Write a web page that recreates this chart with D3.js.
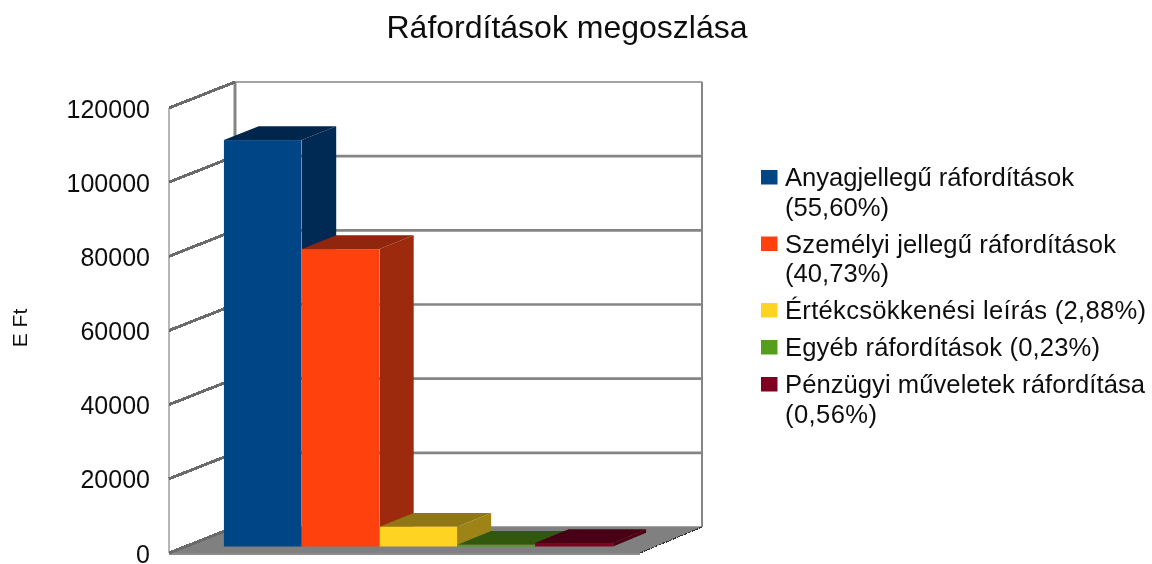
<!DOCTYPE html>
<html>
<meta charset="utf-8">
<style>
  body { margin: 0; background: #fff; }
  svg { display: block; }
  text { font-family: "Liberation Sans", Arial, sans-serif; fill: #111; }
</style>
<body>
  <svg width="1152" height="564">
    <defs>
      <filter id="soft" x="-5%" y="-5%" width="110%" height="110%">
        <feGaussianBlur stdDeviation="0.5"></feGaussianBlur>
      </filter>
    </defs>
  </svg>
</body>
<script src="https://cdn.jsdelivr.net/npm/d3@7"></script>
<script>
  var titleText = "Ráfordítások megoszlása";
  var yLabel = "E Ft";
  var categories = ["Anyagjellegű", "Személyi", "Értékcsökkenési", "Egyéb", "Pénzügyi"];
  var values = [109600, 80200, 5350, 450, 950];
  var colors = ["#004586", "#ff420e", "#ffd320", "#579d1c", "#7e0021"];
  var legendLabels = [
    ["Anyagjellegű ráfordítások", "(55,60%)"],
    ["Személyi jellegű ráfordítások", "(40,73%)"],
    ["Értékcsökkenési leírás (2,88%)"],
    ["Egyéb ráfordítások (0,23%)"],
    ["Pénzügyi műveletek ráfordítása", "(0,56%)"]
  ];
  var yTicks = [0, 20000, 40000, 60000, 80000, 100000, 120000];

  // widths of the legend lines, the original spacing is a bit looser than the font
  var legendWidths = [[289, 104], [331, 104], [361], [315], [360, 92]];

  var svg = d3.select("svg");
  var root = svg.append("g").attr("filter", "url(#soft)");

  // front plane of the 3D box
  var x0 = 169, x1 = 640, y0 = 553, y1 = 108;
  // how far the back wall is shifted from the front plane (a bit less on the right)
  var depthLeft = 66, depthRight = 62, depthY = 26;
  var barFront = 0.25, barBack = 0.78;

  var x = d3.scaleBand().domain(categories).range([207.5, 597.5]);
  var y = d3.scaleLinear().domain([0, 120000]).range([y0, y1]);
  var shift = d3.scaleLinear().domain([x0, x1]).range([depthLeft, depthRight]);

  // data position -> screen position, d is 0 at front and 1 at back wall
  function px(v, d) { return v + d * shift(v); }
  function py(v, d) { return y(v) - d * depthY; }
  function poly(pts) { return pts.map(function(p) { return p.join(","); }).join(" "); }

  function shade(c, k) {
    var r = d3.rgb(c);
    return d3.rgb(r.r * k, r.g * k, r.b * k).formatHex();
  }

  var chart = root.append("g").attr("class", "chart");

  // FLOOR
  chart.append("polygon")
    .attr("points", poly([[px(x0, 0), py(0, 0)], [px(x1, 0), py(0, 0)], [px(x1, 1), py(0, 1)], [px(x0, 1), py(0, 1)]]))
    .attr("fill", "#808080");
  chart.append("line")
    .attr("x1", x0).attr("x2", x1).attr("y1", y0 + 1).attr("y2", y0 + 1)
    .attr("stroke", "#666").attr("stroke-width", 1.5);

  // GRID ON BACK WALL
  chart.selectAll(".grid").data(yTicks).enter().append("line")
    .attr("class", "grid")
    .attr("x1", px(x0, 1)).attr("x2", px(x1, 1))
    .attr("y1", function(d) { return py(d, 1); })
    .attr("y2", function(d) { return py(d, 1); })
    .attr("stroke", "#858585")
    .attr("stroke-width", function(d) { return d === 120000 || d === 0 ? 1.5 : 2.6; });

  // WALL EDGES
  chart.append("line")
    .attr("x1", px(x0, 1)).attr("x2", px(x0, 1)).attr("y1", py(120000, 1)).attr("y2", py(0, 1))
    .attr("stroke", "#858585").attr("stroke-width", 3);
  chart.append("line")
    .attr("x1", px(x1, 1)).attr("x2", px(x1, 1)).attr("y1", py(120000, 1)).attr("y2", py(0, 1))
    .attr("stroke", "#858585").attr("stroke-width", 2);
  chart.append("line")
    .attr("x1", x0).attr("x2", x0).attr("y1", y1).attr("y2", y0)
    .attr("stroke", "#858585").attr("stroke-width", 1.2);

  // SIDE WALL TICKS (jagged like the original)
  chart.selectAll(".sidetick").data(yTicks).enter().append("line")
    .attr("class", "sidetick")
    .attr("x1", px(x0, 0)).attr("x2", px(x0, 1))
    .attr("y1", function(d) { return py(d, 0); })
    .attr("y2", function(d) { return py(d, 1); })
    .attr("stroke", "#6a6a6a").attr("stroke-width", 3)
    .style("shape-rendering", "crispEdges");
  chart.append("line")
    .attr("x1", px(x1, 0)).attr("x2", px(x1, 1))
    .attr("y1", py(0, 0)).attr("y2", py(0, 1))
    .attr("stroke", "#333").attr("stroke-width", 1.2)
    .attr("stroke-dasharray", "3 1")
    .style("shape-rendering", "crispEdges");

  // BARS, left to right so the next bar covers the previous side
  var bars = chart.selectAll(".bar").data(categories).enter().append("g").attr("class", "bar");

  bars.append("polygon") // side
    .attr("fill", function(d, i) { return shade(colors[i], 0.62); })
    .attr("points", function(d, i) {
      var r = x(d) + x.bandwidth(), v = values[i];
      return poly([[px(r, barFront), py(0, barFront)], [px(r, barBack), py(0, barBack)],
                   [px(r, barBack), py(v, barBack)], [px(r, barFront), py(v, barFront)]]);
    });

  bars.append("polygon") // top
    .attr("fill", function(d, i) { return shade(colors[i], 0.56); })
    .attr("points", function(d, i) {
      var l = x(d), r = l + x.bandwidth(), v = values[i];
      return poly([[px(l, barFront), py(v, barFront)], [px(r, barFront), py(v, barFront)],
                   [px(r, barBack), py(v, barBack)], [px(l, barBack), py(v, barBack)]]);
    });

  bars.append("rect") // front
    .attr("x", function(d) { return px(x(d), barFront); })
    .attr("y", function(d, i) { return py(values[i], barFront); })
    .attr("width", x.bandwidth() - 0.5)
    .attr("height", function(d, i) { return y(0) - y(values[i]); })
    .attr("fill", function(d, i) { return colors[i]; });

  // Y AXIS LABELS
  var yAxis = d3.axisLeft(y).tickValues(yTicks).tickSize(0).tickPadding(19).tickFormat(d3.format("d"));
  var axisG = root.append("g").attr("transform", "translate(" + x0 + ",1)").call(yAxis);
  axisG.select(".domain").remove();
  axisG.selectAll("text").style("font-size", "25px").style("font-family", "Liberation Sans").attr("fill", "#111");

  root.append("text")
    .attr("transform", "translate(27,328) rotate(-90)")
    .attr("text-anchor", "middle")
    .style("font-size", "21px")
    .text(yLabel);

  // TITLE
  root.append("text")
    .attr("x", 567).attr("y", 38)
    .attr("text-anchor", "middle")
    .style("font-size", "32px")
    .text(titleText);

  // LEGEND
  var lineStep = 29.5, entryGap = 37, legendY = 186;
  legendLabels.forEach(function(lines, i) {
    root.append("rect")
      .attr("x", 761).attr("y", legendY - 16).attr("width", 16.5).attr("height", 14.5)
      .attr("fill", colors[i]);
    lines.forEach(function(t, j) {
      root.append("text")
        .attr("x", 785).attr("y", legendY + j * lineStep)
        .attr("textLength", legendWidths[i][j])
        .style("font-size", "25.6px")
        .text(t);
    });
    legendY += (lines.length - 1) * lineStep + entryGap;
  });
</script>
</html>
